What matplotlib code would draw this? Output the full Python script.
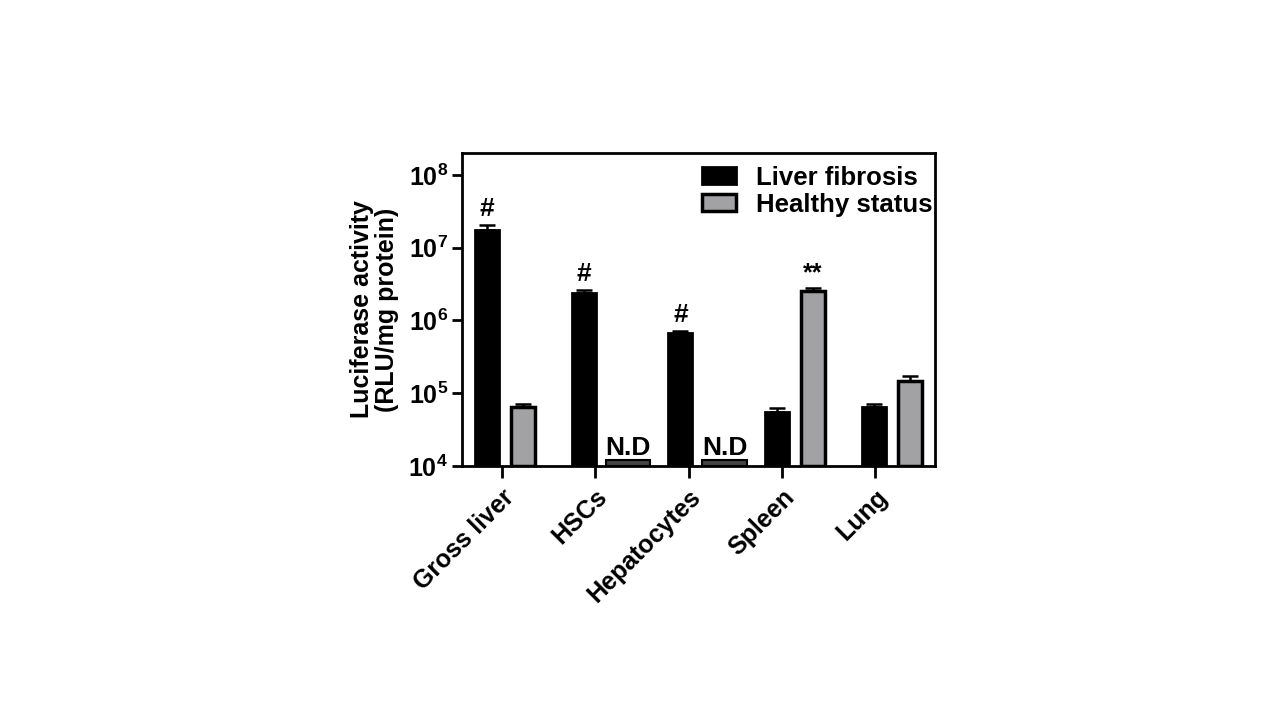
import numpy as np
import matplotlib
matplotlib.use("Agg")
import matplotlib.pyplot as plt
from matplotlib.ticker import FixedLocator, FuncFormatter, NullLocator

plt.rcParams['font.family'] = ['Liberation Sans', 'DejaVu Sans']
plt.rcParams['font.weight'] = 'bold'
plt.rcParams['mathtext.fontset'] = 'custom'
plt.rcParams['mathtext.rm'] = 'Liberation Sans:bold'
plt.rcParams['mathtext.bf'] = 'Liberation Sans:bold'

categories = ["Gross liver", "HSCs", "Hepatocytes", "Spleen", "Lung"]
fibrosis = [1.75e7, 2.41e6, 6.8e5, 5.5e4, 6.5e4]
fibrosis_err = [0.3e7, 0.2e6, 0.4e5, 0.8e4, 0.6e4]
healthy = [6.4e4, np.nan, np.nan, 2.54e6, 1.47e5]
healthy_err = [0.65e4, np.nan, np.nan, 0.28e6, 0.26e5]
fibrosis_marks = ["#", "#", "#", "", ""]
healthy_marks = ["", "N.D", "N.D", "**", ""]
legend_labels = ["Liver fibrosis", "Healthy status"]

GRAY = '#a2a2a4'
fig = plt.figure(figsize=(12.8, 7.2), dpi=100)
ax = fig.add_axes([462/1280, 1-466/720, (935-462)/1280, (466-153)/720])

x = np.arange(len(categories))
off = 0.186
w = 0.248
bottom = 1e4

b1 = ax.bar(x - off, np.array(fibrosis) - bottom, bottom=bottom, width=w,
            color='black', edgecolor='black', linewidth=2, label=legend_labels[0], zorder=2)
ax.errorbar(x - off, fibrosis, yerr=[np.zeros(5), fibrosis_err], fmt='none',
            ecolor='black', elinewidth=1.8, capsize=6, capthick=1.8, zorder=1)
hv = np.array(healthy)
b2 = ax.bar(x + off, hv - bottom, bottom=bottom, width=w,
            color=GRAY, edgecolor='black', linewidth=2.5, label=legend_labels[1], zorder=2)
ax.errorbar(x + off, hv, yerr=[np.zeros(5), healthy_err], fmt='none',
            ecolor='black', elinewidth=1.8, capsize=6, capthick=1.8, zorder=1)

for i, m in enumerate(fibrosis_marks):
    if m:
        ax.annotate(m, (x[i] - off, fibrosis[i] + fibrosis_err[i]), xytext=(0, 3),
                    textcoords='offset points', ha='center', va='bottom',
                    fontsize=19, fontweight='bold')
for i, m in enumerate(healthy_marks):
    if m == "N.D":
        xc = x[i] + off + 0.085
        ax.bar(xc, 1.2e4 - bottom, bottom=bottom, width=0.46, color='#444444',
               edgecolor='black', linewidth=1.5, zorder=2)
        ax.annotate(m, (xc, bottom), xytext=(0, 8), textcoords='offset points',
                    ha='center', va='baseline', fontsize=19, fontweight='bold')
    elif m:
        ax.annotate(m, (x[i] + off, healthy[i] + healthy_err[i]), xytext=(0, 2),
                    textcoords='offset points', ha='center', va='bottom',
                    fontsize=18, fontweight='bold')

ax.set_yscale('log')
ax.set_ylim(1e4, 2e8)
ax.set_xlim(-0.445, 4.447)
ax.yaxis.set_major_locator(FixedLocator([1e4, 1e5, 1e6, 1e7, 1e8]))
ax.yaxis.set_minor_locator(NullLocator())
ax.yaxis.set_major_formatter(FuncFormatter(lambda v, p: r'$\mathbf{10^{%d}}$' % round(np.log10(v))))
ax.set_xticks(x * 0.965 - 0.03)
ax.set_xticklabels(categories, rotation=45, ha='right', rotation_mode='anchor',
                   fontsize=18, fontweight='bold')
ax.tick_params(axis='y', labelsize=18, length=7, width=2, pad=3)
ax.tick_params(axis='x', length=8.5, width=2, pad=5)
for s in ax.spines.values():
    s.set_linewidth(2)
ax.set_ylabel("Luciferase activity\n(RLU/mg protein)", fontsize=18, fontweight='bold',
              labelpad=7, linespacing=1.05)

ax.legend(handles=[b1, b2], loc='upper left', bbox_to_anchor=(0.507, 0.96),
          frameon=False, handlelength=1.32, handleheight=0.6,
          handletextpad=0.8, labelspacing=0.12, borderpad=0, borderaxespad=0,
          prop={'weight': 'bold', 'size': 18.5})

fig.savefig('out.png', dpi=100, facecolor='white')
